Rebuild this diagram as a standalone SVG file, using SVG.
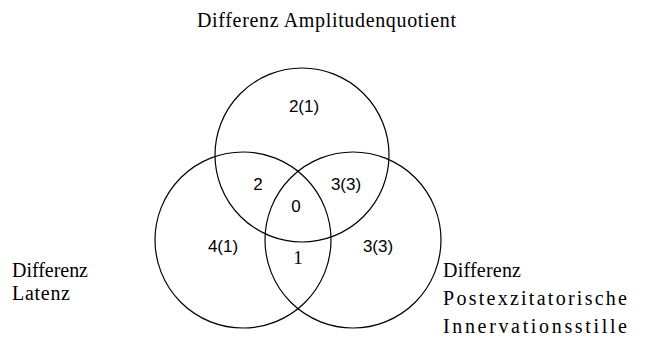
<svg xmlns="http://www.w3.org/2000/svg" width="650" height="353" viewBox="0 0 650 353">
<style>
.c{fill:none;stroke:#000;stroke-width:1.2}
.t{font-family:"Liberation Serif","Times New Roman",serif;font-size:20px;fill:#000}
.n{font-family:"Liberation Sans",Arial,sans-serif;font-size:17px;fill:#000;text-anchor:middle}
.ns{font-family:"Liberation Serif",serif;font-size:19px;fill:#000;text-anchor:middle}
</style>
<rect width="650" height="353" fill="#fff"/>
<g id="circles">
<circle id="amp" class="c" cx="302" cy="155" r="87"/>
<circle id="lat" class="c" cx="243" cy="240" r="88"/>
<circle id="post" class="c" cx="353" cy="240" r="88"/>
</g>
<g id="title"><text class="t" x="197" y="27" textLength="259" lengthAdjust="spacing">Differenz Amplitudenquotient</text></g>
<g id="left-label">
<text class="t" x="12" y="277" textLength="76" lengthAdjust="spacing">Differenz</text>
<text class="t" x="12" y="300" textLength="58" lengthAdjust="spacing">Latenz</text>
</g>
<g id="right-label">
<text class="t" x="443" y="277" textLength="78" lengthAdjust="spacing">Differenz</text>
<text class="t" x="443" y="305" textLength="184" lengthAdjust="spacing">Postexzitatorische</text>
<text class="t" x="443" y="333" textLength="184" lengthAdjust="spacing">Innervationsstille</text>
</g>
<g id="numbers">
<text class="n" x="304" y="112">2(1)</text>
<text class="n" x="258" y="190">2</text>
<text class="n" x="346" y="190">3(3)</text>
<text class="n" x="296" y="212">0</text>
<text class="n" x="223" y="252">4(1)</text>
<text class="ns" x="298" y="264">1</text>
<text class="n" x="378" y="252">3(3)</text>
</g>
</svg>
